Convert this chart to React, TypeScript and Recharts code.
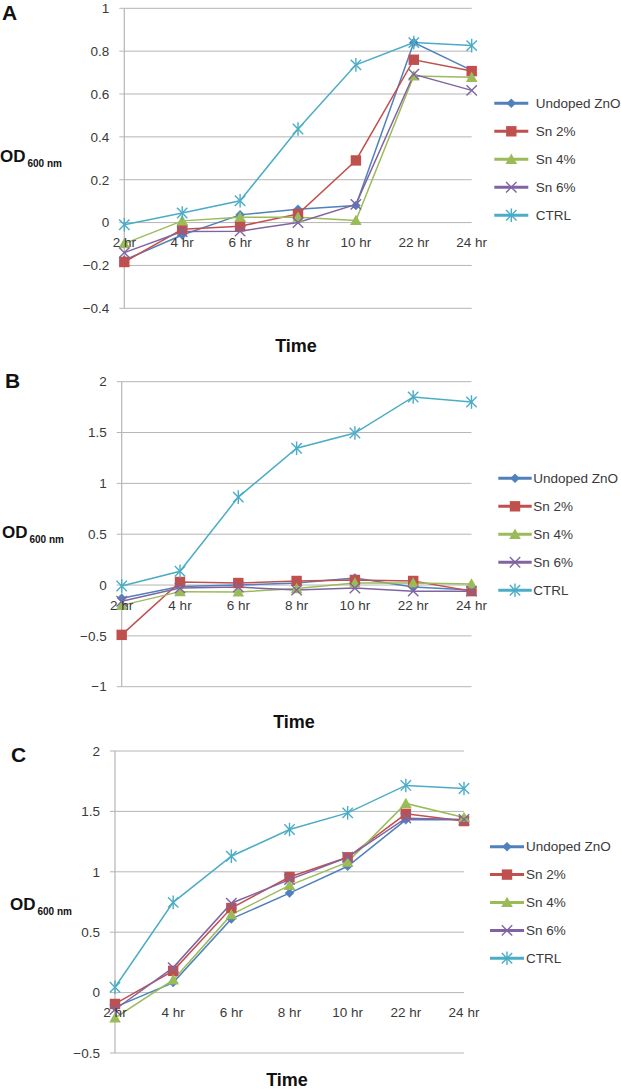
import React from 'react';
import { LineChart, Line, XAxis, YAxis, CartesianGrid, ReferenceDot } from 'recharts';

const categories = ['2 hr', '4 hr', '6 hr', '8 hr', '10 hr', '22 hr', '24 hr'];
const seriesNames = ['Undoped ZnO', 'Sn 2%', 'Sn 4%', 'Sn 6%', 'CTRL'];
const seriesColors = ['#4F81BD', '#C0504D', '#9BBB59', '#8064A2', '#4BACC6'];
const seriesShapes = ['diamond', 'square', 'triangle', 'x', 'star'];

// Panel A
const aUndoped = [-0.175, -0.058, 0.036, 0.062, 0.08, 0.84, 0.71];
const aSn2 = [-0.184, -0.031, -0.017, 0.04, 0.29, 0.76, 0.707];
const aSn4 = [-0.098, 0.008, 0.025, 0.025, 0.01, 0.684, 0.678];
const aSn6 = [-0.14, -0.042, -0.04, 0.0, 0.085, 0.692, 0.617];
const aCtrl = [-0.01, 0.045, 0.102, 0.437, 0.736, 0.84, 0.826];
const aTicks = [-0.4, -0.2, 0, 0.2, 0.4, 0.6, 0.8, 1];

// Panel B
const bUndoped = [-0.13, -0.015, 0.0, 0.02, 0.07, -0.02, -0.05];
const bSn2 = [-0.49, 0.03, 0.02, 0.04, 0.05, 0.04, -0.06];
const bSn4 = [-0.2, -0.065, -0.068, -0.035, 0.02, 0.02, 0.01];
const bSn6 = [-0.16, -0.03, -0.02, -0.05, -0.03, -0.06, -0.06];
const bCtrl = [-0.01, 0.135, 0.865, 1.345, 1.495, 1.85, 1.8];
const bTicks = [-1, -0.5, 0, 0.5, 1, 1.5, 2];

// Panel C
const cUndoped = [-0.12, 0.083, 0.61, 0.824, 1.046, 1.43, 1.43];
const cSn2 = [-0.094, 0.18, 0.7, 0.957, 1.12, 1.48, 1.42];
const cSn4 = [-0.21, 0.105, 0.645, 0.888, 1.08, 1.566, 1.45];
const cSn6 = [-0.14, 0.207, 0.74, 0.935, 1.12, 1.444, 1.433];
const cCtrl = [0.044, 0.747, 1.129, 1.35, 1.488, 1.715, 1.69];
const cTicks = [-0.5, 0, 0.5, 1, 1.5, 2];

const FONT = '"Liberation Sans", Arial, Helvetica, sans-serif';
const GRID = '#b5b5b5';
const TXT = '#3a3a3a';

const buildRows = (series: number[][]) =>
  categories.map((t, i) => {
    const row: any = { t };
    series.forEach((s, k) => {
      row['s' + k] = s[i];
    });
    return row;
  });

const fmt = (v: number) => (v < 0 ? '\u2212' + String(Math.abs(v)) : String(v));

function markerEl(shape: string, color: string, cx: number, cy: number, key?: any) {
  if (cx == null || cy == null || isNaN(cx) || isNaN(cy)) return <g key={key} />;
  if (shape === 'diamond') {
    const s = 4.5;
    return (
      <polygon key={key} points={`${cx},${cy - s} ${cx + s},${cy} ${cx},${cy + s} ${cx - s},${cy}`} fill={color} stroke={color} strokeWidth={0.5} />
    );
  }
  if (shape === 'square') {
    return <rect key={key} x={cx - 5.2} y={cy - 5.2} width={10.4} height={10.4} fill={color} />;
  }
  if (shape === 'triangle') {
    return <polygon key={key} points={`${cx},${cy - 5.8} ${cx + 5.8},${cy + 4.6} ${cx - 5.8},${cy + 4.6}`} fill={color} />;
  }
  if (shape === 'x') {
    return (
      <g key={key} stroke={color} strokeWidth={1.4}>
        <line x1={cx - 5.2} y1={cy - 5.2} x2={cx + 5.2} y2={cy + 5.2} />
        <line x1={cx - 5.2} y1={cy + 5.2} x2={cx + 5.2} y2={cy - 5.2} />
      </g>
    );
  }
  return (
    <g key={key} stroke={color} strokeWidth={1.4}>
      <line x1={cx - 5.2} y1={cy - 5.2} x2={cx + 5.2} y2={cy + 5.2} />
      <line x1={cx - 5.2} y1={cy + 5.2} x2={cx + 5.2} y2={cy - 5.2} />
      <line x1={cx} y1={cy - 6.8} x2={cx} y2={cy + 6.8} />
    </g>
  );
}

const makeDot = (k: number) => (props: any) =>
  markerEl(seriesShapes[k], seriesColors[k], props.cx, props.cy, 'd' + k + '-' + props.index);

type PanelProps = {
  top: number;
  height: number;
  margin: { top: number; right: number; bottom: number; left: number };
  series: number[][];
  ticks: number[];
};

function Panel({ top, height, margin, series, ticks }: PanelProps) {
  const rows = buildRows(series);
  return (
    <div style={{ position: 'absolute', left: 0, top, width: 621, height }}>
      <LineChart width={621} height={height} data={rows} margin={margin} style={{ fontFamily: FONT }}>
        <CartesianGrid vertical={false} stroke={GRID} strokeWidth={1} />
        <XAxis dataKey="t" type="category" hide />
        <YAxis
          type="number"
          width={60}
          domain={[ticks[0], ticks[ticks.length - 1]]}
          ticks={ticks}
          interval={0}
          tickFormatter={fmt}
          axisLine={{ stroke: GRID, strokeWidth: 1.2 }}
          tickLine={{ stroke: GRID, strokeWidth: 1 }}
          tickSize={5}
          tickMargin={10}
          tick={{ fill: TXT, fontSize: 13.5, fontFamily: FONT }}
        />
        {categories.map((c) => (
          <ReferenceDot
            key={'lbl' + c}
            x={c}
            y={0}
            r={0}
            fill="none"
            stroke="none"
            ifOverflow="visible"
            label={{ value: c, position: 'bottom', offset: 15, fill: TXT, fontSize: 13.5, fontFamily: FONT }}
          />
        ))}
        {series.map((_, k) => (
          <Line
            key={'ln' + k}
            type="linear"
            dataKey={'s' + k}
            name={seriesNames[k]}
            stroke={seriesColors[k]}
            strokeWidth={1.5}
            dot={makeDot(k)}
            activeDot={false}
            isAnimationActive={false}
          />
        ))}
      </LineChart>
    </div>
  );
}

type LegendPos = { x1: number; x2: number; tx: number; y0: number; dy: number };

function LegendSvg({ x1, x2, tx, y0, dy }: LegendPos) {
  return (
    <g>
      {seriesNames.map((n, k) => {
        const y = y0 + k * dy;
        const mid = (x1 + x2) / 2;
        return (
          <g key={'lg' + k}>
            <line x1={x1} y1={y} x2={x2} y2={y} stroke={seriesColors[k]} strokeWidth={3} />
            {markerEl(seriesShapes[k], seriesColors[k], mid, y)}
            <text x={tx} y={y} dominantBaseline="central" fontSize={13.5} fill={TXT} fontFamily={FONT}>
              {n}
            </text>
          </g>
        );
      })}
    </g>
  );
}

function ODLabel({ x, y, subY }: { x: number; y: number; subY: number }) {
  return (
    <text x={x} y={y} fontFamily={FONT} fontWeight="bold" fill="#111">
      <tspan fontSize={17}>OD</tspan>
      <tspan fontSize={10} dx={2} y={subY}>600 nm</tspan>
    </text>
  );
}

export default function App() {
  return (
    <div style={{ position: 'absolute', left: 0, top: 0, width: 621, height: 1092, background: '#fff', overflow: 'hidden' }}>
      <Panel
        top={0}
        height={360}
        margin={{ top: 8.3, right: 149.3, bottom: 51.7, left: 64.3 }}
        series={[aUndoped, aSn2, aSn4, aSn6, aCtrl]}
        ticks={aTicks}
      />
      <Panel
        top={360}
        height={360}
        margin={{ top: 21.7, right: 149.5, bottom: 33.3, left: 61.7 }}
        series={[bUndoped, bSn2, bSn4, bSn6, bCtrl]}
        ticks={bTicks}
      />
      <Panel
        top={720}
        height={372}
        margin={{ top: 31, right: 157, bottom: 39, left: 55 }}
        series={[cUndoped, cSn2, cSn4, cSn6, cCtrl]}
        ticks={cTicks}
      />
      <svg width={621} height={1092} style={{ position: 'absolute', left: 0, top: 0, pointerEvents: 'none' }}>
        <text x={2} y={20} fontSize={21} fontWeight="bold" fontFamily={FONT} fill="#111">A</text>
        <text x={5} y={388} fontSize={21} fontWeight="bold" fontFamily={FONT} fill="#111">B</text>
        <text x={11} y={762} fontSize={21} fontWeight="bold" fontFamily={FONT} fill="#111">C</text>
        <ODLabel x={0} y={162} subY={167} />
        <ODLabel x={2} y={538} subY={543} />
        <ODLabel x={10} y={910} subY={915} />
        <text x={296} y={352} textAnchor="middle" fontSize={18} fontWeight="bold" fontFamily={FONT} fill="#111">Time</text>
        <text x={294} y={728} textAnchor="middle" fontSize={18} fontWeight="bold" fontFamily={FONT} fill="#111">Time</text>
        <text x={287} y={1086} textAnchor="middle" fontSize={18} fontWeight="bold" fontFamily={FONT} fill="#111">Time</text>
        <LegendSvg x1={494.3} x2={528.3} tx={535.7} y0={103.3} dy={28} />
        <LegendSvg x1={498.3} x2={531.7} tx={533.3} y0={478.3} dy={28} />
        <LegendSvg x1={490} x2={524} tx={526} y0={846.7} dy={27.9} />
      </svg>
    </div>
  );
}
